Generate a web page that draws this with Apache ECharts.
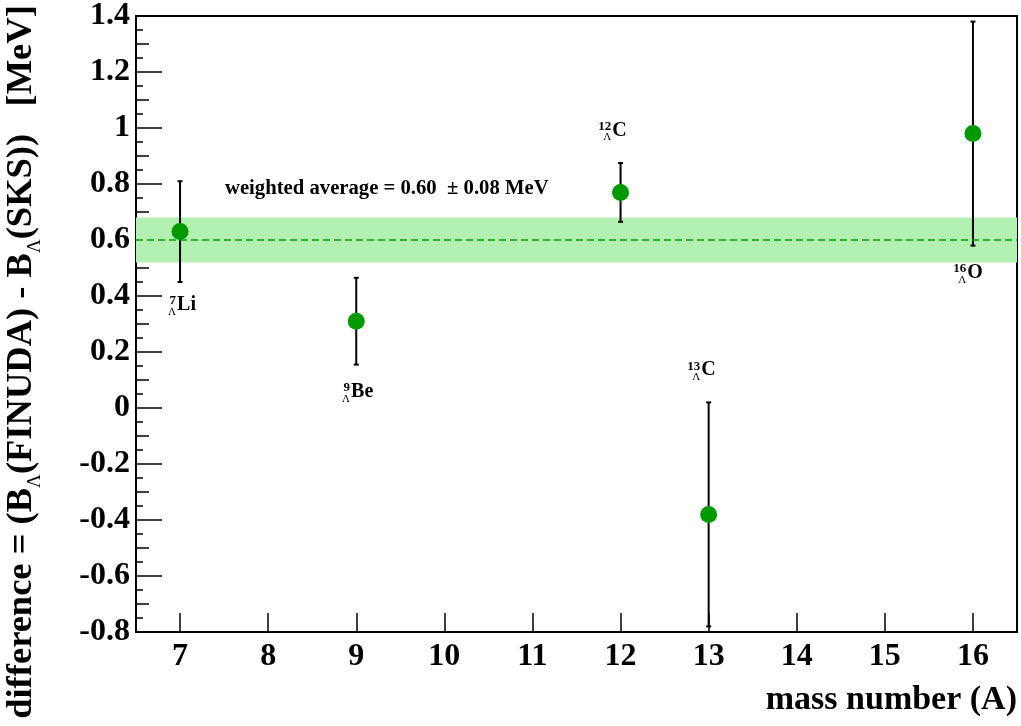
<!DOCTYPE html>
<html>
<head>
<meta charset="utf-8">
<script src="https://cdn.jsdelivr.net/npm/echarts@6/dist/echarts.min.js"></script>
<style>
html,body{margin:0;padding:0;background:#fff;}
#chart{width:1021px;height:726px;}
</style>
</head>
<body>
<div id="chart"></div>
<script>
// ---- data ----
var massNumber = [7, 9, 12, 13, 16];
var difference = [0.63, 0.31, 0.77, -0.38, 0.98];
var errLow = [0.45, 0.155, 0.665, -0.78, 0.58];
var errHigh = [0.81, 0.465, 0.875, 0.02, 1.38];
var nucleusSymbol = ['Li', 'Be', 'C', 'C', 'O'];
var nucleusMass = ['7', '9', '12', '13', '16'];
var labelX = [6.966, 8.941, 11.905, 12.915, 15.936];
var labelY = [0.337, 0.025, 0.959, 0.103, 0.451];
var weightedAvg = 0.60;
var weightedErr = 0.08;
var avgText = 'weighted average = 0.60  \u00b1 0.08 MeV';
var avgTextPos = [7.51, 0.753];
var xTicks = [7, 8, 9, 10, 11, 12, 13, 14, 15, 16];
var yMajor = [-0.8, -0.6, -0.4, -0.2, 0, 0.2, 0.4, 0.6, 0.8, 1, 1.2, 1.4];
var yMedium = [-0.7, -0.5, -0.3, -0.1, 0.1, 0.3, 0.5, 0.7, 0.9, 1.1, 1.3];
var ySmall = [-0.75, -0.65, -0.55, -0.45, -0.35, -0.25, -0.15, -0.05, 0.05, 0.15, 0.25, 0.35, 0.45, 0.55, 0.65, 0.75, 0.85, 0.95, 1.05, 1.15, 1.25, 1.35];

var FONT = "'Liberation Serif','Times New Roman',serif";
var chart = echarts.init(document.getElementById('chart'), null, {renderer: 'canvas'});

function yAx(ticks, len, showLabel) {
  return {
    type: 'value', min: -0.8, max: 1.4, position: 'left',
    axisLine: {show: true, onZero: false, lineStyle: {color: '#000', width: 2}},
    splitLine: {show: false},
    axisTick: {show: true, inside: true, length: len, customValues: ticks, lineStyle: {color: '#000', width: 1.5}},
    axisLabel: showLabel ? {
      show: true, customValues: yMajor, margin: 6,
      fontFamily: FONT, fontWeight: 'bold', fontSize: 32, color: '#000',
      formatter: function (v) { return String(Math.round(v * 10) / 10); }
    } : {show: false}
  };
}

var errData = massNumber.map(function (x, i) { return [x, errLow[i], errHigh[i]]; });
var pointData = massNumber.map(function (x, i) { return [x, difference[i]]; });

var labelData = [];
for (var i = 0; i < massNumber.length; i++) {
  labelData.push({
    value: [labelX[i], labelY[i]],
    label: {
      show: true, position: [0, 0], align: 'left', verticalAlign: 'bottom',
      formatter: nucleusSymbol[i], fontFamily: FONT, fontWeight: 'bold', fontSize: 20, lineHeight: 18, color: '#000'
    }
  });
  labelData.push({
    value: [labelX[i], labelY[i]],
    label: {
      show: true, position: [-1, 3], align: 'right', verticalAlign: 'bottom',
      formatter: '{sup|' + nucleusMass[i] + '}\n{sub|\u039b}',
      rich: {
        sup: {fontFamily: FONT, fontWeight: 'bold', fontSize: 13, lineHeight: 12, color: '#000', align: 'right'},
        sub: {fontFamily: FONT, fontWeight: 'normal', fontSize: 11, lineHeight: 10, color: '#000', align: 'right'}
      }
    }
  });
}
labelData.push({
  value: avgTextPos,
  label: {
    show: true, position: [0, 0], align: 'left', verticalAlign: 'bottom',
    formatter: avgText, fontFamily: FONT, fontWeight: 'bold', fontSize: 20.7, lineHeight: 18, color: '#000'
  }
});

var option = {
  animation: false,
  backgroundColor: '#fff',
  grid: {left: 136, right: 4, top: 13, bottom: 94, show: true, borderColor: '#000', borderWidth: 2, backgroundColor: 'transparent'},
  xAxis: {
    type: 'value', min: 6.5, max: 16.5,
    axisLine: {show: true, onZero: false, lineStyle: {color: '#000', width: 2}},
    splitLine: {show: false},
    axisTick: {show: true, inside: true, length: 19, customValues: xTicks, lineStyle: {color: '#000', width: 1.5}},
    axisLabel: {show: true, customValues: xTicks, margin: 9, fontFamily: FONT, fontWeight: 'bold', fontSize: 32, color: '#000'}
  },
  yAxis: [yAx(yMajor, 26, true), yAx(yMedium, 13, false), yAx(ySmall, 7, false)],
  graphic: [
    {
      type: 'text', x: 22, y: 362, rotation: Math.PI / 2,
      style: {
        text: '{n|difference = (B}{s|\u039b}{n|(FINUDA) - B}{s|\u039b}{n|(SKS))   [MeV]}',
        align: 'center', verticalAlign: 'middle',
        rich: {
          n: {fontFamily: FONT, fontWeight: 'bold', fontSize: 36.5, lineHeight: 46, verticalAlign: 'middle', fill: '#000'},
          s: {fontFamily: FONT, fontWeight: 'normal', fontSize: 19, lineHeight: 46, verticalAlign: 'bottom', fill: '#000'}
        }
      }
    },
    {
      type: 'text', right: 4, top: 683,
      style: {text: 'mass number (A)', fontFamily: FONT, fontWeight: 'bold', fontSize: 34, fill: '#000'}
    }
  ],
  series: [
    {
      type: 'line', data: [], yAxisIndex: 0,
      markArea: {
        silent: true,
        itemStyle: {color: '#b3f1b3'},
        data: [[{yAxis: weightedAvg - weightedErr}, {yAxis: weightedAvg + weightedErr}]]
      },
      markLine: {
        silent: true, symbol: 'none', label: {show: false},
        lineStyle: {color: '#00a000', type: [7, 4], width: 1.5},
        data: [{yAxis: weightedAvg}]
      }
    },
    {
      type: 'custom', yAxisIndex: 0, z: 3,
      data: errData,
      renderItem: function (params, api) {
        var x = api.value(0);
        var lo = api.coord([x, api.value(1)]);
        var hi = api.coord([x, api.value(2)]);
        var st = {stroke: '#000', lineWidth: 2};
        return {
          type: 'group',
          children: [
            {type: 'line', shape: {x1: lo[0], y1: lo[1], x2: hi[0], y2: hi[1]}, style: st},
            {type: 'line', shape: {x1: lo[0] - 2.5, y1: lo[1], x2: lo[0] + 2.5, y2: lo[1]}, style: st},
            {type: 'line', shape: {x1: hi[0] - 2.5, y1: hi[1], x2: hi[0] + 2.5, y2: hi[1]}, style: st}
          ]
        };
      }
    },
    {
      type: 'scatter', yAxisIndex: 0, z: 4,
      symbol: 'circle', symbolSize: 17,
      itemStyle: {color: '#009a00', opacity: 1},
      data: pointData
    },
    {
      type: 'scatter', yAxisIndex: 0, z: 5, silent: true,
      symbolSize: 0,
      itemStyle: {opacity: 1},
      data: labelData
    }
  ]
};
chart.setOption(option);
</script>
</body>
</html>
